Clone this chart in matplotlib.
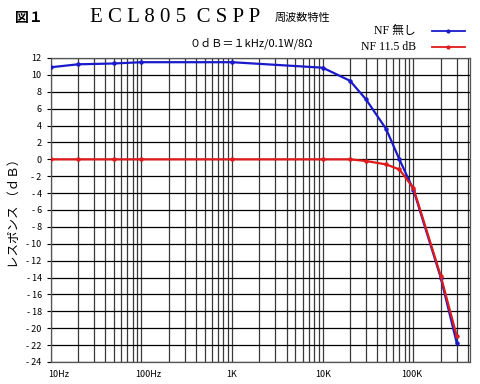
import matplotlib
matplotlib.use("Agg")
import matplotlib.pyplot as plt
import matplotlib.transforms as mtransforms
import numpy as np

plt.rcParams['font.family'] = ['Noto Sans CJK JP', 'DejaVu Sans']

freq_blue = [10, 20, 50, 100, 1000, 10000, 20000, 30000, 50000, 70000, 100000, 200000, 300000]
gain_blue = [10.9, 11.25, 11.35, 11.5, 11.5, 10.85, 9.3, 7.1, 3.6, 0.0, -3.6, -14.0, -21.7]
freq_red = [10, 20, 50, 100, 1000, 10000, 20000, 30000, 50000, 70000, 100000, 200000, 300000]
gain_red = [0, 0, 0, 0, 0, 0, 0, -0.2, -0.6, -1.2, -3.4, -13.8, -20.9]

yticks = list(range(12, -25, -2))
xtick_pos = [10, 100, 1000, 10000, 100000]
xtick_labels = ["10Hz", "100Hz", "1K", "10K", "100K"]
series_names = ["NF 無し", "NF 11.5 dB"]

fig = plt.figure(figsize=(4.8, 3.84), dpi=100)
ax = fig.add_axes([0.1056, 0.0573, 0.979 - 0.1056, 0.849 - 0.0573])

ax.set_xscale('log')
ax.set_xlim(10, 4.2e5)
ax.set_ylim(-24, 12)

# grid
minor = []
for d in range(1, 6):
    for m in range(2, 10):
        v = m * 10 ** d
        if v <= 4.2e5:
            minor.append(v)
major = [10, 100, 1000, 10000, 100000]
for v in minor + major:
    ax.axvline(v, color='#3a3a3a', lw=0.9, zorder=1)
for y in yticks:
    ax.axhline(y, color='black', lw=0.9, zorder=1)

ax.plot(freq_blue, gain_blue, color='#1a1acc', lw=1.6, marker='o', ms=2.2, zorder=3)
ax.plot(freq_red, gain_red, color='#e01a1a', lw=1.6, marker='o', ms=2.2, zorder=4)

ax.set_yticks(yticks)
ax.set_yticklabels([("- " + str(-y)) if y < 0 else str(y) for y in yticks], fontsize=6.5)
ax.set_xticks(xtick_pos)
ax.set_xticks([], minor=True)
ax.set_xticklabels(xtick_labels, fontsize=6.5)
ax.tick_params(axis='both', length=3, width=0.8, color='black')
ax.tick_params(axis='x', length=0, pad=6)
for lab, dx in zip(ax.get_xticklabels(), [8, 7, 0, 0, -2]):
    lab.set_transform(lab.get_transform() + mtransforms.ScaledTranslation(dx / 100, 0, fig.dpi_scale_trans))
for s in ax.spines.values():
    s.set_color('#555555')
    s.set_linewidth(0.9)

ax.set_ylabel("レスポンス （ｄＢ）", fontsize=9, labelpad=4)

fig.text(15 / 480, 1 - 18 / 384, "図１", fontsize=10, fontweight='bold', va='center', ha='left')
fig.text(90 / 480, 1 - 18 / 384, "E C L 8 0 5  C S P P", fontsize=15, family='Liberation Serif',
         va='center', ha='left')
fig.text(275 / 480, 1 - 18 / 384, "周波数特性", fontsize=8, va='center', ha='left')
fig.text(251 / 480, 1 - 43 / 384, "０ｄＢ＝１kHz/0.1W/8Ω", fontsize=8, va='center', ha='center')

fig.text(416 / 480, 1 - 31 / 384, series_names[0], fontsize=8.5, family=['Liberation Serif', 'Noto Sans CJK JP'],
         va='center', ha='right')
fig.text(416 / 480, 1 - 47 / 384, series_names[1], fontsize=8.5, family=['Liberation Serif', 'Noto Sans CJK JP'],
         va='center', ha='right')
fig.lines.append(plt.Line2D([432 / 480, 448 / 480, 465 / 480], [1 - 31 / 384] * 3, color='#1a1acc', lw=1.3,
                            marker='o', ms=2, markevery=[1], transform=fig.transFigure))
fig.lines.append(plt.Line2D([432 / 480, 448 / 480, 465 / 480], [1 - 47 / 384] * 3, color='#e01a1a', lw=1.3,
                            marker='o', ms=2, markevery=[1], transform=fig.transFigure))

fig.savefig("out.png", dpi=100)
